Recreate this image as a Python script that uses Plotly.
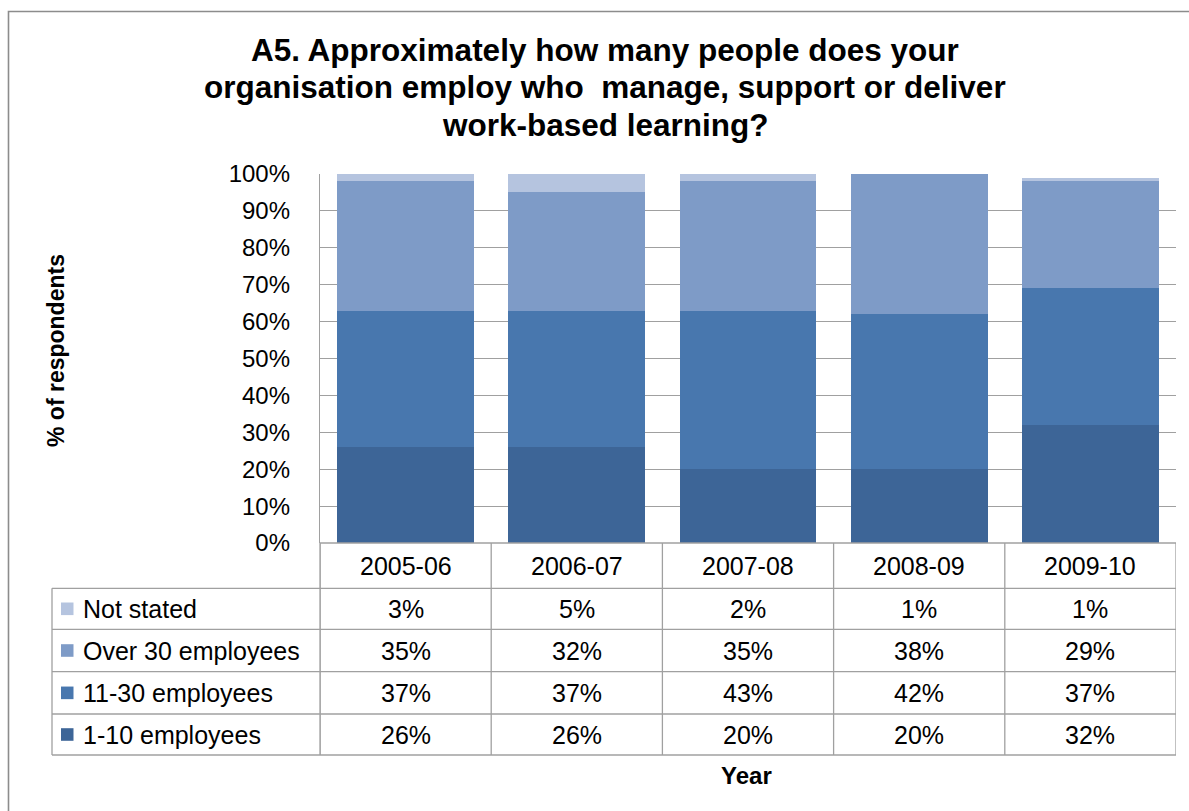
import plotly.graph_objects as go

# ---- data ----
years = ["2005-06", "2006-07", "2007-08", "2008-09", "2009-10"]
emp_1_10 = [26, 26, 20, 20, 32]
emp_11_30 = [37, 37, 43, 42, 37]
emp_over_30 = [35, 32, 35, 38, 29]
not_stated = [3, 5, 2, 1, 1]

series_names = ["1-10 employees", "11-30 employees", "Over 30 employees", "Not stated"]
series_values = [emp_1_10, emp_11_30, emp_over_30, not_stated]
series_colors = ["#3D6597", "#4877AE", "#7E9BC7", "#B5C4DF"]

title_lines = [
    "A5. Approximately how many people does your",
    "organisation employ who\u00a0 manage, support or deliver",
    "work-based learning?",
]

# ---- layout geometry (pixels) ----
W, H = 1189, 811
PLOT_L, PLOT_R = 320, 1176
PLOT_T, PLOT_B = 174, 543
TABLE_L = 52
ROW_LINES = [588.3, 629.3, 671.7, 714, 755]
HEADER_MID = (PLOT_B + ROW_LINES[0]) / 2
TITLE_MIDS = [50, 87.5, 125]
LINE_COLOR = "#A0A0A0"
FONT = "Liberation Sans, Arial, sans-serif"


def px(x):
    return x / W


def py(y):
    return 1 - y / H


fig = go.Figure()
for name, vals, col in zip(series_names, series_values, series_colors):
    fig.add_trace(go.Bar(
        x=years,
        y=[v / 100 for v in vals],
        name=name,
        marker=dict(color=col, line=dict(width=0)),
        showlegend=False,
        hoverinfo="skip",
    ))

shapes = []
annotations = []

# outer chart frame
shapes.append(dict(type="rect", xref="paper", yref="paper",
                   x0=px(8.5), x1=px(W + 20), y0=py(H + 20), y1=py(11.5),
                   line=dict(color="#8C8C8C", width=1.6), layer="below"))

# y axis line continued down through the data table
shapes.append(dict(type="line", xref="paper", yref="paper",
                   x0=px(PLOT_L), x1=px(PLOT_L), y0=py(PLOT_B), y1=py(ROW_LINES[-1]),
                   line=dict(color=LINE_COLOR, width=1.3)))
# category axis line / top of header row
shapes.append(dict(type="line", xref="paper", yref="paper",
                   x0=px(PLOT_L), x1=px(PLOT_R), y0=py(PLOT_B), y1=py(PLOT_B),
                   line=dict(color=LINE_COLOR, width=1.3), layer="above"))
# table row separators
for yl in ROW_LINES:
    shapes.append(dict(type="line", xref="paper", yref="paper",
                       x0=px(TABLE_L), x1=px(PLOT_R), y0=py(yl), y1=py(yl),
                       line=dict(color=LINE_COLOR, width=1.3)))
# table left border
shapes.append(dict(type="line", xref="paper", yref="paper",
                   x0=px(TABLE_L), x1=px(TABLE_L), y0=py(ROW_LINES[0]), y1=py(ROW_LINES[-1]),
                   line=dict(color=LINE_COLOR, width=1.3)))
# column separators at category boundaries
for i in range(len(years) + 1):
    shapes.append(dict(type="line", xref="x", yref="paper",
                       x0=i - 0.5, x1=i - 0.5, y0=py(PLOT_B), y1=py(ROW_LINES[-1]),
                       line=dict(color=LINE_COLOR, width=1.3)))

# header row: years
for yr in years:
    annotations.append(dict(x=yr, y=py(HEADER_MID), xref="x", yref="paper",
                            text=yr, showarrow=False, xanchor="center", yanchor="middle",
                            font=dict(family=FONT, size=25, color="#000000")))

# data rows, top to bottom: Not stated, Over 30, 11-30, 1-10
row_bounds = list(zip(ROW_LINES[:-1], ROW_LINES[1:]))
for (top, bot), name, vals, col in zip(row_bounds, series_names[::-1],
                                       series_values[::-1], series_colors[::-1]):
    mid = (top + bot) / 2
    shapes.append(dict(type="rect", xref="paper", yref="paper",
                       x0=px(61), x1=px(73.5), y0=py(mid + 6.3), y1=py(mid - 6.3),
                       fillcolor=col, line=dict(width=0)))
    annotations.append(dict(x=px(81), y=py(mid), xref="paper", yref="paper",
                            text=name, showarrow=False, xanchor="left", yanchor="middle",
                            font=dict(family=FONT, size=25, color="#000000")))
    for yr, v in zip(years, vals):
        annotations.append(dict(x=yr, y=py(mid), xref="x", yref="paper",
                                text=f"{v}%", showarrow=False, xanchor="center",
                                yanchor="middle",
                                font=dict(family=FONT, size=25, color="#000000")))

# axis titles
annotations.append(dict(x=px(56), y=py(351), xref="paper", yref="paper",
                        text="<b>% of respondents</b>", textangle=-90, showarrow=False,
                        xanchor="center", yanchor="middle",
                        font=dict(family=FONT, size=23, color="#000000")))
annotations.append(dict(x=px(746), y=py(775), xref="paper", yref="paper",
                        text="<b>Year</b>", showarrow=False,
                        xanchor="center", yanchor="middle",
                        font=dict(family=FONT, size=24, color="#000000")))

# chart title, one annotation per centred line
for line, mid in zip(title_lines, TITLE_MIDS):
    annotations.append(dict(x=px(605), y=py(mid), xref="paper", yref="paper",
                            text=f"<b>{line}</b>", showarrow=False,
                            xanchor="center", yanchor="middle",
                            font=dict(family=FONT, size=31.5, color="#000000")))

fig.update_layout(
    width=W, height=H,
    margin=dict(l=0, r=0, t=0, b=0, pad=0, autoexpand=False),
    paper_bgcolor="white", plot_bgcolor="white",
    barmode="stack", bargap=0.2,
    xaxis=dict(type="category", domain=[px(PLOT_L), px(PLOT_R)], range=[-0.5, 4.5],
               showticklabels=False, showgrid=False, zeroline=False, showline=False,
               ticks="", automargin=False),
    yaxis=dict(domain=[py(PLOT_B), py(PLOT_T)], range=[0, 1], dtick=0.1,
               tickformat=".0%", showgrid=True, gridcolor=LINE_COLOR, gridwidth=1.3,
               zeroline=False, showline=True, linecolor=LINE_COLOR, linewidth=1.3,
               ticks="", ticklabelstandoff=24, automargin=False,
               tickfont=dict(family=FONT, size=24, color="#000000")),
    shapes=shapes,
    annotations=annotations,
)

fig.write_html("out.html")
